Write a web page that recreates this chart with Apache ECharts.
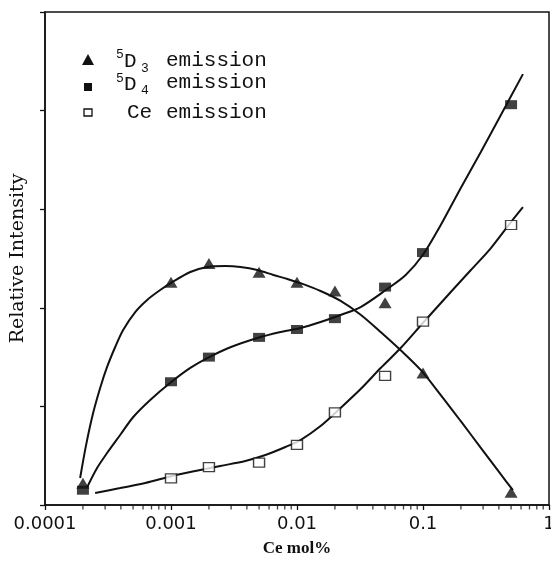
<!DOCTYPE html>
<html>
<head>
<meta charset="utf-8">
<script src="https://cdn.jsdelivr.net/npm/echarts@6/dist/echarts.min.js"></script>
<style>
html,body{margin:0;padding:0;background:#fff;overflow:hidden;width:551px;height:561px;}
#chart{width:551px;height:561px;}
</style>
</head>
<body>
<div id="chart"></div>
<script>
// ---- data ----
const xTickLabels = ['0.0001', '0.001', '0.01', '0.1', '1'];
const minorTickValues = [
  0.0002,0.0003,0.0004,0.0005,0.0006,0.0007,0.0008,0.0009,
  0.002,0.003,0.004,0.005,0.006,0.007,0.008,0.009,
  0.02,0.03,0.04,0.05,0.06,0.07,0.08,0.09,
  0.2,0.3,0.4,0.5,0.6,0.7,0.8,0.9
];

// measured points
const d3Points = [[0.0002,0.22],[0.001,2.26],[0.002,2.45],[0.005,2.36],[0.01,2.26],[0.02,2.17],[0.05,2.05],[0.1,1.34],[0.5,0.13]];
const d4Points = [[0.0002,0.15],[0.001,1.25],[0.002,1.50],[0.005,1.70],[0.01,1.78],[0.02,1.89],[0.05,2.21],[0.1,2.56],[0.5,4.06]];
const cePoints = [[0.001,0.27],[0.002,0.385],[0.005,0.43],[0.01,0.61],[0.02,0.94],[0.05,1.31],[0.1,1.86],[0.5,2.84]];

// fitted curves
const d3Curve = [[0.000190,0.274],[0.000212,0.61],[0.000241,0.933],[0.000274,1.187],[0.000311,1.40],[0.000360,1.60],
  [0.000417,1.775],[0.000520,1.957],[0.000647,2.08],[0.000821,2.18],[0.001023,2.26],[0.001423,2.363],[0.00194,2.414],
  [0.0027,2.424],[0.00356,2.414],[0.00485,2.383],[0.0065,2.333],[0.0084,2.292],[0.01066,2.25],[0.01538,2.17],
  [0.02218,2.07],[0.0320,1.93],[0.0461,1.755],[0.0665,1.57],[0.0959,1.37],[0.1384,1.115],[0.1995,0.85],
  [0.2877,0.58],[0.4150,0.31],[0.5172,0.15]];
const d4Curve = [[0.000216,0.18],[0.000259,0.375],[0.000311,0.527],[0.000395,0.71],[0.000500,0.89],[0.000684,1.065],
  [0.001005,1.247],[0.001423,1.39],[0.00194,1.49],[0.00296,1.60],[0.00485,1.694],[0.0074,1.755],[0.01066,1.795],
  [0.01538,1.856],[0.02218,1.927],[0.0320,2.008],[0.0506,2.18],[0.0729,2.333],[0.0996,2.535],[0.1384,2.84],
  [0.1995,3.215],[0.2877,3.58],[0.4150,3.955],[0.621,4.37]];
const ceCurve = [[0.000250,0.122],[0.000395,0.172],[0.000624,0.223],[0.001023,0.294],[0.00156,0.345],[0.00246,0.396],
  [0.00389,0.446],[0.00561,0.507],[0.00810,0.588],[0.01066,0.659],[0.01538,0.801],[0.02218,0.984],[0.0320,1.176],
  [0.0461,1.389],[0.0665,1.592],[0.1014,1.856],[0.1662,2.16],[0.2399,2.383],[0.3459,2.606],[0.4989,2.87],[0.621,3.022]];

const chart = echarts.init(document.getElementById('chart'), null, {renderer:'canvas', width:551, height:561});

const monoFont = '"Liberation Mono", "DejaVu Sans Mono", monospace';
function txt(text, x, y, size){
  return {type:'text', z:100, style:{text:text, x:x, y:y, font: size + 'px ' + monoFont, fill:'#111',
    align:'left', textAlign:'left', verticalAlign:'middle', textVerticalAlign:'middle'}};
}

const option = {
  backgroundColor:'#fff',
  animation:false,
  grid:{left:45, right:2, top:12, bottom:56, show:true, borderColor:'#111', borderWidth:1.5,
    containLabel:false, outerBoundsMode:'none'},
  xAxis:{
    type:'log', logBase:10, min:0.0001, max:1,
    name:'Ce mol%', nameLocation:'middle', nameGap:35,
    nameTextStyle:{fontFamily:'"Liberation Serif", serif', fontSize:17, color:'#111', fontWeight:'bold'},
    axisLine:{lineStyle:{color:'#111', width:1.5}},
    axisTick:{show:true, inside:false, length:5, lineStyle:{color:'#111', width:1.3}},
    splitLine:{show:false},
    axisLabel:{margin:10, fontFamily:'"DejaVu Sans", sans-serif', fontSize:18, color:'#111', hideOverlap:false,
      formatter:function(v){ const i = Math.round(Math.log10(v)) + 4; return xTickLabels[i] !== undefined ? xTickLabels[i] : ''; }}
  },
  yAxis:{
    type:'value', min:0, max:5, interval:1,
    name:'Relative Intensity', nameLocation:'middle', nameGap:17,
    nameTextStyle:{fontFamily:'"DejaVu Serif", serif', fontSize:19, color:'#111'},
    axisLine:{show:true, lineStyle:{color:'#111', width:1.5}},
    axisTick:{show:true, inside:false, length:5, lineStyle:{color:'#111', width:1.3}},
    axisLabel:{show:false},
    splitLine:{show:false}
  },
  graphic:[
    {type:'polygon', z:100, shape:{points:[[88,54],[94,65],[82,65]]}, style:{fill:'#111'}},
    txt('5', 116, 55, 13), txt('D', 124, 61, 21), txt('3', 141, 69, 13), txt('emission', 166, 60, 21),
    {type:'rect', z:100, shape:{x:84, y:83, width:8, height:8}, style:{fill:'#111'}},
    txt('5', 116, 79, 13), txt('D', 124, 84, 21), txt('4', 141, 91, 13), txt('emission', 166, 82, 21),
    {type:'rect', z:100, shape:{x:84, y:109, width:8, height:7}, style:{fill:'#fff', stroke:'#111', lineWidth:1.3}},
    txt('Ce', 127, 112, 21), txt('emission', 166, 112, 21)
  ],
  series:[
    {type:'scatter', data:minorTickValues.map(v=>[v,0]), symbol:'rect', symbolSize:[1.3,4], symbolOffset:[0,2.5],
      itemStyle:{color:'#111'}, clip:false, silent:true, z:1},
    {type:'line', data:d3Curve, smooth:0.3, showSymbol:false, symbol:'none', lineStyle:{color:'#111', width:2}, z:2, silent:true},
    {type:'line', data:d4Curve, smooth:0.3, showSymbol:false, symbol:'none', lineStyle:{color:'#111', width:2}, z:2, silent:true},
    {type:'line', data:ceCurve, smooth:0.3, showSymbol:false, symbol:'none', lineStyle:{color:'#111', width:2}, z:2, silent:true},
    {type:'scatter', name:'5D3 emission', data:d3Points, symbol:'triangle', symbolSize:[13,11], itemStyle:{color:'#111'}, z:5, clip:false},
    {type:'scatter', name:'5D4 emission', data:d4Points, symbol:'rect', symbolSize:[12,9], itemStyle:{color:'#111'}, z:5, clip:false},
    {type:'scatter', name:'Ce emission', data:cePoints, symbol:'rect', symbolSize:[11,9], itemStyle:{color:'#fff', borderColor:'#111', borderWidth:1.3}, z:6, clip:false}
  ]
};
chart.setOption(option);
</script>
</body>
</html>
